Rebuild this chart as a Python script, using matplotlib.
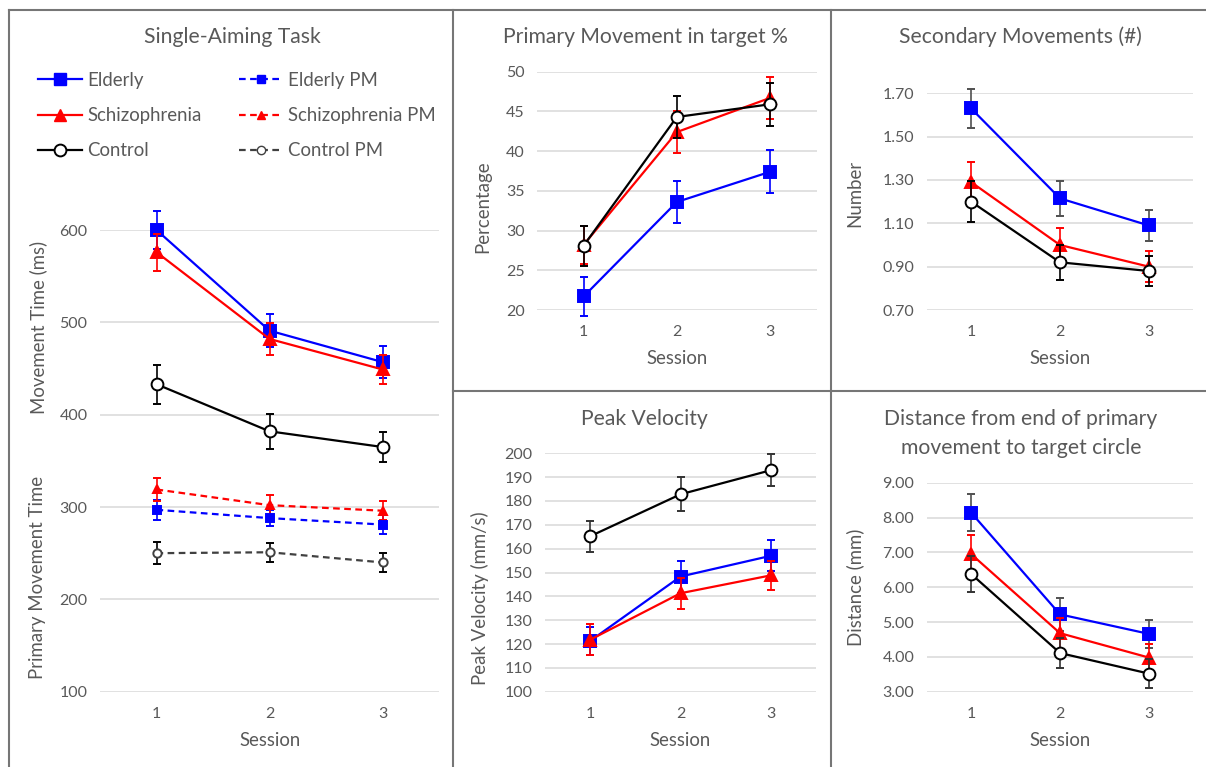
import matplotlib
matplotlib.use("Agg")
import matplotlib.pyplot as plt
from matplotlib.lines import Line2D

plt.rcParams['font.family'] = ['Lato', 'DejaVu Sans']

W, H = 1206, 767
TXT = '#595959'
GRID = '#D9D9D9'
BLUE = '#0000FF'
RED = '#FF0000'
BLACK = '#000000'
PMGREY = '#404040'

TITLE_FS = 15.2
LABEL_FS = 13.4
TICK_FS = 11.5
LEG_FS = 13.4

sessions = [1, 2, 3]
session_labels = ['1', '2', '3']

# Single-Aiming Task: movement time (ms)
mt_elderly = [600, 491, 457]
mt_elderly_err = [21, 18, 17]
mt_schiz = [576, 482, 449]
mt_schiz_err = [20, 17, 16]
mt_control = [433, 382, 365]
mt_control_err = [21, 19, 16]
pm_elderly = [297, 288, 281]
pm_elderly_err = [11, 9, 10]
pm_schiz = [319, 302, 296]
pm_schiz_err = [12, 11, 10]
pm_control = [250, 251, 240]
pm_control_err = [12, 10, 10]

# Primary movement in target %
pct_elderly = [21.7, 33.6, 37.4]
pct_elderly_err = [2.4, 2.6, 2.7]
pct_schiz = [28.2, 42.4, 46.7]
pct_schiz_err = [2.4, 2.6, 2.6]
pct_control = [28.1, 44.3, 45.9]
pct_control_err = [2.5, 2.65, 2.7]

# Secondary movements (#)
sec_elderly = [1.63, 1.215, 1.09]
sec_elderly_err = [0.09, 0.08, 0.07]
sec_schiz = [1.29, 1.00, 0.90]
sec_schiz_err = [0.095, 0.08, 0.07]
sec_control = [1.20, 0.92, 0.88]
sec_control_err = [0.095, 0.08, 0.07]

# Peak velocity (mm/s)
pv_elderly = [121.3, 148.3, 157.0]
pv_elderly_err = [6.0, 6.7, 6.5]
pv_schiz = [121.8, 141.3, 148.8]
pv_schiz_err = [6.5, 6.5, 6.0]
pv_control = [165.2, 182.8, 192.9]
pv_control_err = [6.4, 7.1, 6.8]

# Distance from end of primary movement to target circle (mm)
dist_elderly = [8.14, 5.22, 4.66]
dist_elderly_err = [0.53, 0.48, 0.41]
dist_schiz = [6.95, 4.68, 3.98]
dist_schiz_err = [0.55, 0.45, 0.40]
dist_control = [6.38, 4.11, 3.52]
dist_control_err = [0.53, 0.44, 0.42]

fig = plt.figure(figsize=(W / 100, H / 100), dpi=100)


def fx(px):
    return px / W


def fy(py):
    return 1 - py / H


def make_ax(x0, x1, y_bottom, y_top, ylim, yticks, fmt):
    ax = fig.add_axes([fx(x0), fy(y_bottom), fx(x1) - fx(x0), fy(y_top) - fy(y_bottom)])
    ax.set_xlim(0.5, 3.5)
    ax.set_ylim(*ylim)
    ax.set_yticks(yticks)
    ax.set_yticklabels([fmt.format(t) for t in yticks])
    ax.set_xticks(sessions)
    ax.set_xticklabels(session_labels)
    for s in ax.spines.values():
        s.set_visible(False)
    ax.grid(axis='y', color=GRID, linewidth=1.1)
    ax.set_axisbelow(True)
    ax.tick_params(length=0, labelsize=TICK_FS, colors=TXT, pad=9)
    ax.tick_params(axis='x', pad=11)
    ax.patch.set_alpha(0)
    return ax


def series(ax, y, err, color, marker, ms, ecolor, ls='-', mfc=None, mec=None, lw=1.6, z=3):
    ax.errorbar(sessions, y, yerr=err, color=color, linestyle=ls, linewidth=lw,
                marker=marker, markersize=ms,
                markerfacecolor=mfc if mfc else color,
                markeredgecolor=mec if mec else color, markeredgewidth=1.4,
                ecolor=ecolor, elinewidth=1.2, capsize=2.8, capthick=1.2,
                clip_on=False, zorder=z)


def main_three(ax, e, ee, s, se, c, ce, eblue_col=BLUE, ctrl_ecol=BLACK):
    series(ax, e, ee, BLUE, 's', 8.5, eblue_col, z=3)
    series(ax, s, se, RED, '^', 8.5, RED, z=4)
    series(ax, c, ce, BLACK, 'o', 8.5, ctrl_ecol, mfc='white', mec=BLACK, z=5)


# ---------- Left panel ----------
axL = make_ax(100, 439, 691.7, 230, (100, 600), [100, 200, 300, 400, 500, 600], '{:.0f}')
dash = (0, (3, 2))
series(axL, pm_elderly, pm_elderly_err, BLUE, 's', 5.5, BLUE, ls=dash, z=3)
series(axL, pm_schiz, pm_schiz_err, RED, '^', 5.5, RED, ls=dash, z=3)
series(axL, pm_control, pm_control_err, PMGREY, 'o', 6, BLACK, ls=dash, mfc='white', mec=PMGREY, z=3)
main_three(axL, mt_elderly, mt_elderly_err, mt_schiz, mt_schiz_err, mt_control, mt_control_err)

fig.text(fx(232), fy(37), 'Single-Aiming Task', ha='center', va='center', fontsize=TITLE_FS, color=TXT)
fig.text(fx(38), fy(327), 'Movement Time (ms)', rotation=90, ha='center', va='center', fontsize=LABEL_FS, color=TXT)
fig.text(fx(38), fy(577), 'Primary Movement Time', rotation=90, ha='center', va='center', fontsize=LABEL_FS, color=TXT)
fig.text(fx(270), fy(741), 'Session', ha='center', va='center', fontsize=LABEL_FS, color=TXT)

handles = [
    Line2D([], [], color=BLUE, lw=1.6, marker='s', ms=8.5, mfc=BLUE, mec=BLUE),
    Line2D([], [], color=RED, lw=1.6, marker='^', ms=8.5, mfc=RED, mec=RED),
    Line2D([], [], color=BLACK, lw=1.6, marker='o', ms=8.5, mfc='white', mec=BLACK, mew=1.4),
    Line2D([], [], color=BLUE, lw=1.6, ls=dash, marker='s', ms=5.5, mfc=BLUE, mec=BLUE),
    Line2D([], [], color=RED, lw=1.6, ls=dash, marker='^', ms=5.5, mfc=RED, mec=RED),
    Line2D([], [], color=PMGREY, lw=1.6, ls=dash, marker='o', ms=6, mfc='white', mec=PMGREY),
]
labels = ['Elderly', 'Schizophrenia', 'Control', 'Elderly PM', 'Schizophrenia PM', 'Control PM']
leg = fig.legend(handles, labels, ncol=2, loc='upper left', bbox_to_anchor=(fx(38), fy(72)),
                 frameon=False, fontsize=LEG_FS, handlelength=2.37, handletextpad=0.27,
                 labelspacing=0.97, columnspacing=2.0, borderaxespad=0, borderpad=0)
for t in leg.get_texts():
    t.set_color(TXT)

# ---------- Top middle ----------
axA = make_ax(537, 816.7, 310, 71.7, (20, 50), [20, 25, 30, 35, 40, 45, 50], '{:.0f}')
main_three(axA, pct_elderly, pct_elderly_err, pct_schiz, pct_schiz_err, pct_control, pct_control_err)
fig.text(fx(645), fy(37), 'Primary Movement in target %', ha='center', va='center', fontsize=TITLE_FS, color=TXT)
fig.text(fx(483), fy(207), 'Percentage', rotation=90, ha='center', va='center', fontsize=LABEL_FS, color=TXT)
fig.text(fx(677), fy(359), 'Session', ha='center', va='center', fontsize=LABEL_FS, color=TXT)

# ---------- Top right ----------
axB = make_ax(926.7, 1193.3, 310, 93.3, (0.7, 1.7), [0.7, 0.9, 1.1, 1.3, 1.5, 1.7], '{:.2f}')
main_three(axB, sec_elderly, sec_elderly_err, sec_schiz, sec_schiz_err, sec_control, sec_control_err,
           eblue_col='#505050')
fig.text(fx(1020), fy(37), 'Secondary Movements (#)', ha='center', va='center', fontsize=TITLE_FS, color=TXT)
fig.text(fx(855), fy(193), 'Number', rotation=90, ha='center', va='center', fontsize=LABEL_FS, color=TXT)
fig.text(fx(1060), fy(359), 'Session', ha='center', va='center', fontsize=LABEL_FS, color=TXT)

# ---------- Bottom middle ----------
axC = make_ax(545, 816, 691.7, 453.3, (100, 200), list(range(100, 201, 10)), '{:.0f}')
main_three(axC, pv_elderly, pv_elderly_err, pv_schiz, pv_schiz_err, pv_control, pv_control_err,
           ctrl_ecol='#333333')
fig.text(fx(644), fy(419), 'Peak Velocity', ha='center', va='center', fontsize=TITLE_FS, color=TXT)
fig.text(fx(480), fy(598), 'Peak Velocity (mm/s)', rotation=90, ha='center', va='center', fontsize=LABEL_FS, color=TXT)
fig.text(fx(680), fy(741), 'Session', ha='center', va='center', fontsize=LABEL_FS, color=TXT)

# ---------- Bottom right ----------
axD = make_ax(926.7, 1193.3, 691.7, 482.7, (3, 9), [3, 4, 5, 6, 7, 8, 9], '{:.2f}')
main_three(axD, dist_elderly, dist_elderly_err, dist_schiz, dist_schiz_err, dist_control, dist_control_err,
           eblue_col='#505050', ctrl_ecol='#333333')
fig.text(fx(1021), fy(419), 'Distance from end of primary', ha='center', va='center', fontsize=TITLE_FS, color=TXT)
fig.text(fx(1021), fy(448), 'movement to target circle', ha='center', va='center', fontsize=TITLE_FS, color=TXT)
fig.text(fx(855), fy(587), 'Distance (mm)', rotation=90, ha='center', va='center', fontsize=LABEL_FS, color=TXT)
fig.text(fx(1060), fy(741), 'Session', ha='center', va='center', fontsize=LABEL_FS, color=TXT)

# ---------- Panel borders ----------
BORDER = '#767676'
for (xa, ya, xb, yb) in [(9, 10, 1206, 10), (9, 10, 9, 767), (452.7, 10, 452.7, 767),
                         (831, 10, 831, 767), (452.7, 391, 1206, 391)]:
    fig.add_artist(Line2D([fx(xa), fx(xb)], [fy(ya), fy(yb)], color=BORDER, lw=1.5))

fig.savefig('out.png', dpi=100)
